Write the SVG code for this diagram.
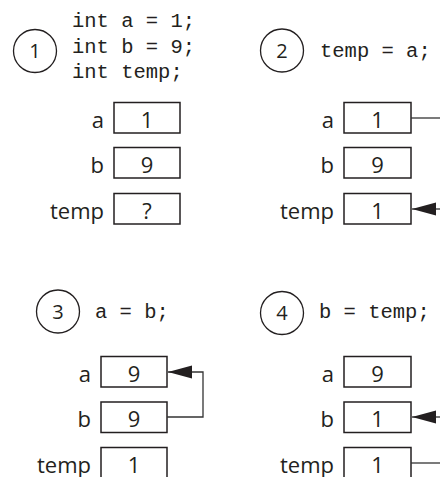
<svg xmlns="http://www.w3.org/2000/svg" width="440" height="477" viewBox="0 0 440 477">
<style>
.bg{fill:#fff}
.box{fill:#fff;stroke:#231f20;stroke-width:1.5}
.circ{fill:none;stroke:#231f20;stroke-width:1.3}
.code{font-family:"Liberation Mono",monospace;font-size:20.5px;fill:#231f20}
.lbl{font-family:"Open Sans","Liberation Sans",sans-serif;font-size:22px;fill:#231f20;text-anchor:end}
.val{font-family:"Open Sans","Liberation Sans",sans-serif;font-size:22px;fill:#231f20;text-anchor:middle}
.num{font-family:"Open Sans","Liberation Sans",sans-serif;font-size:20px;fill:#231f20;text-anchor:middle}
.conn{fill:none;stroke:#333;stroke-width:1.3}
</style>
<defs>
<marker id="ah" markerUnits="userSpaceOnUse" markerWidth="24" markerHeight="14" refX="24" refY="7" orient="auto">
<path d="M0,0.5 L24,7 L0,13.5 z" fill="#231f20"/>
</marker>
</defs>
<rect class="bg" x="0" y="0" width="440" height="477"/>

<g id="step1">
<circle class="circ" cx="35" cy="51" r="21.5"/>
<text class="num" x="35" y="58">1</text>
<text class="code" x="72" y="27" xml:space="preserve">int a = 1;</text>
<text class="code" x="72" y="53" xml:space="preserve">int b = 9;</text>
<text class="code" x="72" y="78" xml:space="preserve">int temp;</text>
</g>
<g id="s1-a"><text class="lbl" x="104" y="128">a</text><rect class="box" x="114" y="102.5" width="66" height="30.5"/><text class="val" x="147" y="128">1</text></g>
<g id="s1-b"><text class="lbl" x="104" y="173">b</text><rect class="box" x="114" y="147.5" width="66" height="30.5"/><text class="val" x="147" y="173">9</text></g>
<g id="s1-temp"><text class="lbl" x="104" y="219">temp</text><rect class="box" x="114" y="193.5" width="66" height="30.5"/><text class="val" x="147" y="219">?</text></g>

<g id="step2">
<circle class="circ" cx="282" cy="50.5" r="21.5"/>
<text class="num" x="282" y="57.5">2</text>
<text class="code" x="320" y="57" xml:space="preserve">temp = a;</text>
</g>
<g id="s2-a"><text class="lbl" x="334" y="128">a</text><rect class="box" x="344" y="102.5" width="67" height="30.5"/><text class="val" x="377.5" y="128">1</text></g>
<g id="s2-b"><text class="lbl" x="334" y="173">b</text><rect class="box" x="344" y="147.5" width="67" height="30.5"/><text class="val" x="377.5" y="173">9</text></g>
<g id="s2-temp"><text class="lbl" x="334" y="219">temp</text><rect class="box" x="344" y="193.5" width="67" height="30.5"/><text class="val" x="377.5" y="219">1</text></g>

<g id="step3">
<circle class="circ" cx="58" cy="311.5" r="21.5"/>
<text class="num" x="58" y="318.5">3</text>
<text class="code" x="95" y="318" xml:space="preserve">a = b;</text>
</g>
<g id="s3-a"><text class="lbl" x="91" y="382">a</text><rect class="box" x="101" y="356.5" width="66" height="30.5"/><text class="val" x="134" y="382">9</text></g>
<g id="s3-b"><text class="lbl" x="91" y="427">b</text><rect class="box" x="101" y="402" width="66" height="30.5"/><text class="val" x="134" y="427">9</text></g>
<g id="s3-temp"><text class="lbl" x="91" y="473">temp</text><rect class="box" x="101" y="447.5" width="66" height="40"/><text class="val" x="134" y="473">1</text></g>

<g id="step4">
<circle class="circ" cx="282" cy="313" r="21.5"/>
<text class="num" x="282" y="320">4</text>
<text class="code" x="319" y="318" xml:space="preserve">b = temp;</text>
</g>
<g id="s4-a"><text class="lbl" x="334" y="382">a</text><rect class="box" x="344" y="356.5" width="67" height="30.5"/><text class="val" x="377.5" y="382">9</text></g>
<g id="s4-b"><text class="lbl" x="334" y="427">b</text><rect class="box" x="344" y="402" width="67" height="30.5"/><text class="val" x="377.5" y="427">1</text></g>
<g id="s4-temp"><text class="lbl" x="334" y="473">temp</text><rect class="box" x="344" y="447.5" width="67" height="40"/><text class="val" x="377.5" y="473">1</text></g>

<g id="connectors">
<path class="conn" d="M411,118 H440"/>
<path class="conn" d="M440,209 H412" marker-end="url(#ah)"/>
<path class="conn" d="M167,417 H203 V372 H168" marker-end="url(#ah)"/>
<path class="conn" d="M440,417 H412" marker-end="url(#ah)"/>
<path class="conn" d="M411,463 H440"/>
</g>
</svg>
